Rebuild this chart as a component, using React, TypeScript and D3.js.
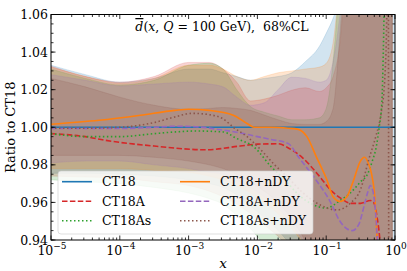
import React from 'react';
import * as d3 from 'd3';

const W = 407;
const H = 271;
const FONT = "'DejaVu Serif', 'Liberation Serif', serif";

// log10(x) grid for the 68% CL bands
const bandLogX = [-5, -4.5, -4, -3.5, -3, -2.7, -2.5, -2.3, -2.1, -1.9, -1.7, -1.5, -1.3, -1.1, -1.0, -0.9, -0.8, -0.7, -0.5, -0.3, -0.1, -0.04, 0];

const ct18Hi = [1.033, 1.028, 1.024, 1.026, 1.031, 1.031, 1.029, 1.027, 1.025, 1.026, 1.027, 1.029, 1.035, 1.043, 1.05, 1.058, 1.07, 1.09, 1.12, 1.12, 1.12, 1.12, 1.12];
const ct18Lo = [0.9755, 0.9755, 0.975, 0.974, 0.972, 0.97, 0.968, 0.964, 0.958, 0.952, 0.945, 0.936, 0.92, 0.9, 0.88, 0.88, 0.88, 0.88, 0.88, 0.88, 0.88, 0.88, 0.88];
const ct18aHi = [1.0325, 1.027, 1.024, 1.027, 1.0345, 1.0345, 1.031, 1.024, 1.014, 1.015, 1.017, 1.0197, 1.021, 1.019, 1.021, 1.027, 1.045, 1.09, 1.12, 1.12, 1.12, 1.12, null];
const ct18aLo = [0.974, 0.9735, 0.973, 0.971, 0.969, 0.966, 0.963, 0.959, 0.954, 0.948, 0.942, 0.934, 0.92, 0.9, 0.88, 0.88, 0.88, 0.88, 0.88, 0.88, 0.88, 0.88, null];
const ct18asHi = [1.031, 1.026, 1.0225, 1.025, 1.033, 1.034, 1.031, 1.02, 1.011, 1.008, 1.006, 1.004, 1.004, 1.005, 1.01, 1.035, 1.08, 1.12, 1.12, 1.12, 1.12, 1.12, null];
const ct18asLo = [0.972, 0.971, 0.97, 0.968, 0.965, 0.962, 0.959, 0.953, 0.946, 0.937, 0.925, 0.91, 0.9, 0.88, 0.88, 0.88, 0.88, 0.88, 0.88, 0.88, 0.88, 0.88, null];
const ct18nHi = [1.032, 1.027, 1.0235, 1.026, 1.033, 1.033, 1.031, 1.027, 1.025, 1.027, 1.029, 1.03, 1.031, 1.032, 1.034, 1.045, 1.08, 1.12, 1.12, 1.12, 1.12, 1.12, null];
const ct18nLo = [0.978, 0.978, 0.978, 0.977, 0.976, 0.974, 0.972, 0.969, 0.965, 0.96, 0.954, 0.946, 0.936, 0.92, 0.88, 0.88, 0.88, 0.88, 0.88, 0.88, 0.88, 0.88, null];
const ct18anHi = [1.028, 1.025, 1.022, 1.023, 1.024, 1.023, 1.0215, 1.016, 1.0117, 1.013, 1.02, 1.0266, 1.026, 1.024, 1.025, 1.035, 1.06, 1.1, 1.12, 1.12, 1.12, 1.12, null];
const ct18anLo = [0.981, 0.982, 0.982, 0.98, 0.978, 0.976, 0.975, 0.972, 0.968, 0.963, 0.957, 0.948, 0.937, 0.92, 0.88, 0.88, 0.88, 0.88, 0.88, 0.88, 0.88, 0.88, null];
const ct18asnHi = [1.026, 1.0215, 1.016, 1.0117, 1.0095, 1.01, 1.0105, 1.01, 1.009, 1.0065, 1.004, 1.002, 1.0015, 1.0015, 1.003, 1.01, 1.05, 1.1, 1.12, 1.12, 1.12, 1.12, null];
const ct18asnLo = [0.985, 0.985, 0.985, 0.984, 0.982, 0.98, 0.978, 0.975, 0.971, 0.966, 0.96, 0.951, 0.939, 0.92, 0.88, 0.88, 0.88, 0.88, 0.88, 0.88, 0.88, 0.88, null];

// central ratio curves (log10 x, ratio)
const ct18LineX = [-5, 0];
const ct18Line = [1.0, 1.0];
const ct18aLineX = [-5, -4.5, -4.2, -3.5, -2.75, -2.25, -2.0, -1.7, -1.55, -1.35, -1.1, -0.92, -0.78, -0.64, -0.5, -0.36, -0.31, -0.26, -0.22, -0.18];
const ct18aLine = [0.9966, 0.995, 0.993, 0.99, 0.988, 0.99, 0.991, 0.9912, 0.989, 0.984, 0.974, 0.966, 0.962, 0.9595, 0.9595, 0.961, 0.96, 0.952, 0.94, 0.915];
const ct18asLineX = [-5, -4.5, -4, -3.5, -3.2, -2.9, -2.5, -2.3, -2.05, -1.8, -1.6, -1.4, -1.2, -1.0, -0.8, -0.65, -0.5, -0.4, -0.33, -0.27, -0.23, -0.19, -0.17, -0.15];
const ct18asLine = [0.9966, 0.995, 0.995, 0.9966, 0.9975, 0.998, 0.9975, 0.994, 0.9895, 0.979, 0.972, 0.964, 0.959, 0.957, 0.961, 0.965, 0.971, 0.975, 0.982, 0.99, 1.0, 1.014, 1.04, 1.08];
const ct18nLineX = [-5, -4.3, -3.7, -3.2, -3.0, -2.7, -2.35, -2.15, -2.05, -1.8, -1.55, -1.42, -1.28, -1.14, -0.99, -0.9, -0.8, -0.7, -0.6, -0.51, -0.44, -0.39, -0.34, -0.29, -0.265, -0.24];
const ct18nLine = [1.0016, 1.0037, 1.0064, 1.009, 1.0096, 1.009, 1.0064, 1.002, 1.0, 1.0, 0.9995, 0.999, 0.995, 0.984, 0.972, 0.963, 0.9605, 0.963, 0.972, 0.9815, 0.984, 0.981, 0.975, 0.961, 0.944, 0.92];
const ct18anLineX = [-5, -4, -3.5, -3.2, -2.9, -2.6, -2.25, -2.0, -1.8, -1.55, -1.4, -1.15, -0.95, -0.8, -0.7, -0.62, -0.53, -0.45, -0.4, -0.36, -0.32, -0.29, -0.26, -0.23];
const ct18anLine = [0.9993, 0.9993, 1.0, 1.0005, 1.0003, 0.999, 0.997, 0.995, 0.9935, 0.9913, 0.984, 0.972, 0.961, 0.95, 0.946, 0.945, 0.948, 0.958, 0.965, 0.969, 0.966, 0.958, 0.942, 0.92];
const ct18asnLineX = [-5, -4.5, -4, -3.5, -3.2, -2.95, -2.65, -2.5, -2.35, -2.15, -1.95, -1.75, -1.55, -1.35, -1.13, -0.84, -0.65, -0.5, -0.38, -0.28, -0.2, -0.15, -0.12, -0.1, -0.09];
const ct18asnLine = [0.9995, 0.9995, 1.0, 1.0025, 1.0055, 1.0074, 1.0064, 1.0045, 1.0, 0.995, 0.988, 0.98, 0.973, 0.9655, 0.9595, 0.956, 0.9596, 0.967, 0.983, 0.995, 1.008, 1.025, 1.058, 1.12, 0.88];

const seriesNames = ['CT18', 'CT18A', 'CT18As', 'CT18+nDY', 'CT18A+nDY', 'CT18As+nDY'];
const seriesColors = ['#1f77b4', '#d62728', '#2ca02c', '#ff7f0e', '#9467bd', '#8c564b'];
const seriesDash = ['', '5.5,2.4', '1.5,2.5', '', '5.5,2.4', '1.5,2.5'];

const bandsLo = [ct18Lo, ct18aLo, ct18asLo, ct18nLo, ct18anLo, ct18asnLo];
const bandsHi = [ct18Hi, ct18aHi, ct18asHi, ct18nHi, ct18anHi, ct18asnHi];
const linesX = [ct18LineX, ct18aLineX, ct18asLineX, ct18nLineX, ct18anLineX, ct18asnLineX];
const linesY = [ct18Line, ct18aLine, ct18asLine, ct18nLine, ct18anLine, ct18asnLine];

const yTicks = [0.94, 0.96, 0.98, 1.0, 1.02, 1.04, 1.06];
const xExponents = [-5, -4, -3, -2, -1, 0];

const App: React.FC = () => {
  const left = 51, right = 395, top = 14.5, bottom = 240;
  const x = d3.scaleLog().domain([1e-5, 1]).range([left, right]);
  const y = d3.scaleLinear().domain([0.94, 1.06]).range([bottom, top]);

  const area = d3.area<{ lx: number; lo: number | null; hi: number | null }>()
    .defined(d => d.lo != null && d.hi != null)
    .x(d => x(Math.pow(10, d.lx)))
    .y0(d => y(d.lo as number))
    .y1(d => y(d.hi as number))
    .curve(d3.curveMonotoneX);

  const line = d3.line<[number, number]>()
    .x(d => x(Math.pow(10, d[0])))
    .y(d => y(d[1]))
    .curve(d3.curveMonotoneX);

  const xMinor: number[] = [];
  for (let k = -5; k < 0; k++) for (let m = 2; m <= 9; m++) xMinor.push(m * Math.pow(10, k));
  const yMinor = d3.range(0, 25).map(i => 0.94 + i * 0.005);

  const legendRows = [0, 1, 2];
  const legendCols = [{ hx: 62, tx: 102 }, { hx: 180, tx: 220 }];
  const txt: React.CSSProperties = { fontFamily: FONT };

  return (
    <svg width={W} height={H} style={{ position: 'absolute', left: 0, top: 0, background: '#fff', fontFamily: FONT }}>
      <defs>
        <clipPath id="plot-clip">
          <rect x={left} y={top} width={right - left} height={bottom - top} />
        </clipPath>
      </defs>

      <g clipPath="url(#plot-clip)">
        {bandsLo.map((lo, i) => {
          const pts = bandLogX.map((lx, j) => ({ lx, lo: lo[j], hi: bandsHi[i][j] }));
          return (
            <path key={'b' + i} d={area(pts) || ''} fill={seriesColors[i]} fillOpacity={0.2}
              stroke={seriesColors[i]} strokeOpacity={0.2} strokeWidth={0.8} />
          );
        })}
        {linesX.map((lx, i) => {
          const pts = lx.map((v, j) => [v, linesY[i][j]] as [number, number]);
          return (
            <path key={'l' + i} d={line(pts) || ''} fill="none" stroke={seriesColors[i]}
              strokeWidth={1.6} strokeDasharray={seriesDash[i] || undefined} />
          );
        })}
      </g>

      {/* ticks, inward on all sides */}
      <g stroke="#000" strokeWidth={0.8}>
        {xExponents.map(e => {
          const px = x(Math.pow(10, e));
          return (
            <g key={'xt' + e}>
              <line x1={px} x2={px} y1={bottom} y2={bottom - 4.5} />
              <line x1={px} x2={px} y1={top} y2={top + 4.5} />
            </g>
          );
        })}
        {xMinor.map((v, i) => (
          <g key={'xm' + i}>
            <line x1={x(v)} x2={x(v)} y1={bottom} y2={bottom - 2.5} />
            <line x1={x(v)} x2={x(v)} y1={top} y2={top + 2.5} />
          </g>
        ))}
        {yMinor.map((v, i) => (
          <g key={'ym' + i}>
            <line x1={left} x2={left + 2.5} y1={y(v)} y2={y(v)} />
            <line x1={right} x2={right - 2.5} y1={y(v)} y2={y(v)} />
          </g>
        ))}
        {yTicks.map((v, i) => (
          <g key={'yt' + i}>
            <line x1={left} x2={left + 4.5} y1={y(v)} y2={y(v)} />
            <line x1={right} x2={right - 4.5} y1={y(v)} y2={y(v)} />
          </g>
        ))}
      </g>

      <rect x={left} y={top} width={right - left} height={bottom - top} fill="none" stroke="#000" strokeWidth={1} />

      {yTicks.map((v, i) => (
        <text key={'yl' + i} x={left - 3} y={y(v) + 4.5} textAnchor="end" fontSize={12.5} fill="#000" style={txt}>
          {v.toFixed(2)}
        </text>
      ))}
      {xExponents.map(e => (
        <text key={'xl' + e} x={x(Math.pow(10, e)) + 1} y={255} textAnchor="middle" fontSize={12.5} fill="#000" style={txt}>
          <tspan>10</tspan>
          <tspan dy={-6} fontSize={9}>{e < 0 ? '\u2212' + Math.abs(e) : String(e)}</tspan>
        </text>
      ))}

      <text x={223} y={268} textAnchor="middle" fontSize={13.5} fontStyle="italic" style={txt}>x</text>
      <text transform={`translate(15,${(top + bottom) / 2}) rotate(-90)`} textAnchor="middle" fontSize={13} style={txt}>
        Ratio to CT18
      </text>

      <text x={222} y={31} textAnchor="middle" fontSize={12.5} style={txt}>
        <tspan fontStyle="italic" textDecoration="overline">d</tspan>
        <tspan>(</tspan>
        <tspan fontStyle="italic">x</tspan>
        <tspan>, </tspan>
        <tspan fontStyle="italic">Q</tspan>
        <tspan>{' = 100 GeV),\u00a0 68%CL'}</tspan>
      </text>

      {/* legend */}
      <rect x={58} y={171} width={255} height={63} rx={3} fill="#fff" fillOpacity={0.8} stroke="#ccc" strokeOpacity={0.8} strokeWidth={0.8} />
      {seriesNames.map((name, i) => {
        const col = legendCols[Math.floor(i / 3)];
        const cy = 181.7 + legendRows[i % 3] * 19.5;
        return (
          <g key={'lg' + i}>
            <line x1={col.hx} x2={col.hx + 30} y1={cy} y2={cy} stroke={seriesColors[i]} strokeWidth={1.6}
              strokeDasharray={seriesDash[i] || undefined} />
            <text x={col.tx} y={cy + 4.5} fontSize={12.5} style={txt}>{name}</text>
          </g>
        );
      })}
    </svg>
  );
};

export default App;
